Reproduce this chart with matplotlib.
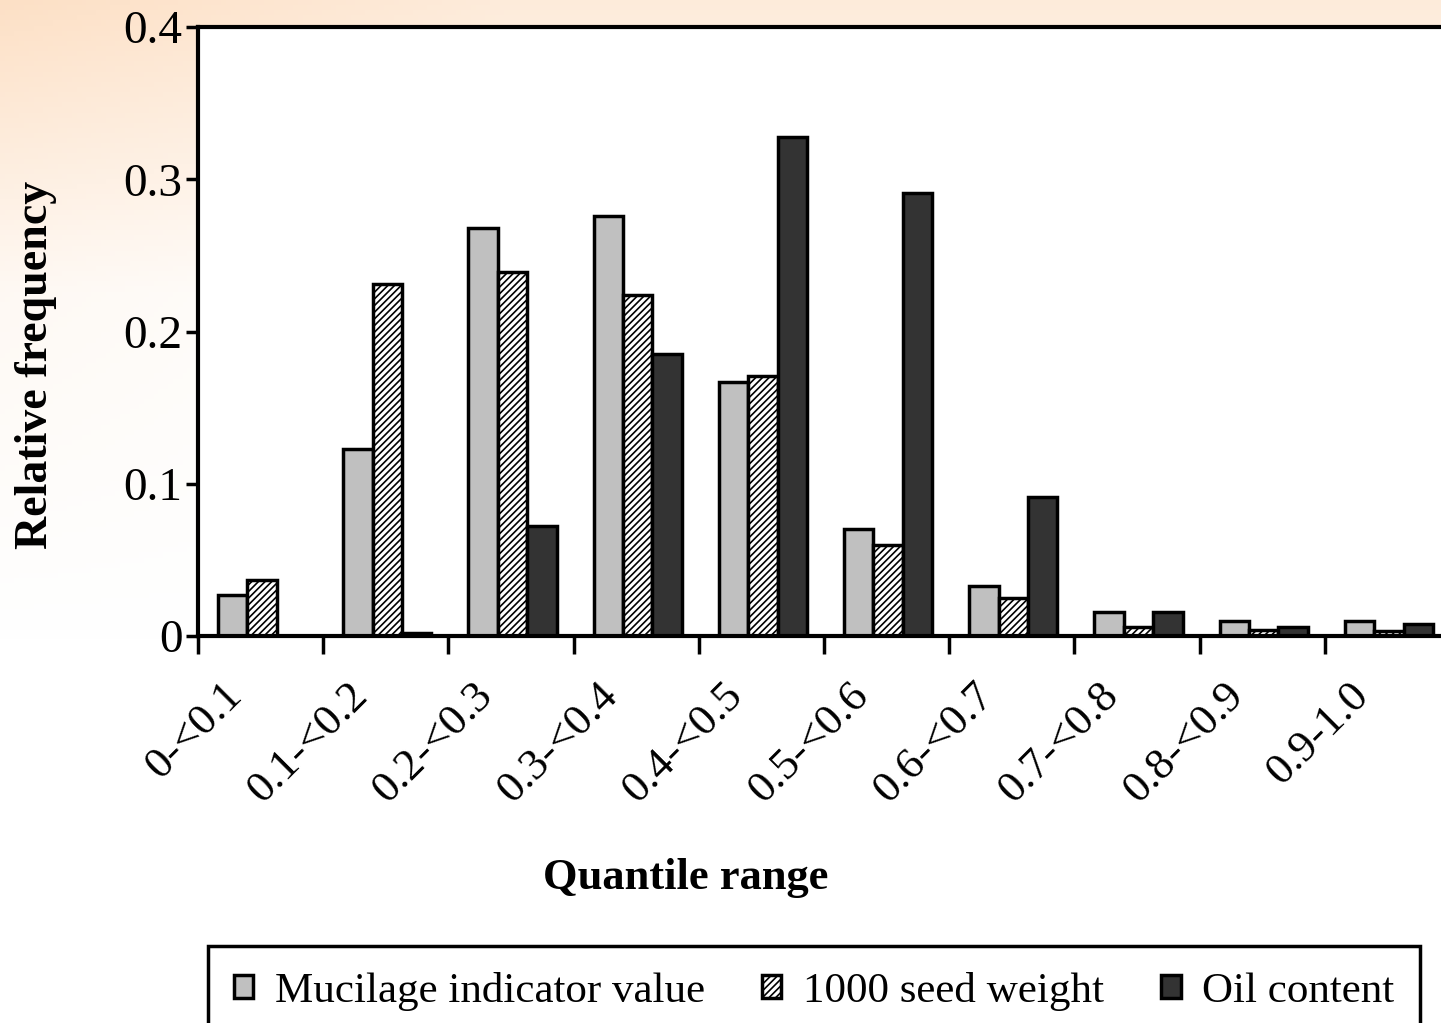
import numpy as np
import matplotlib
matplotlib.use('Agg')
import matplotlib.pyplot as plt

# quantile classes and relative frequencies
categories = ['0-<0.1', '0.1-<0.2', '0.2-<0.3', '0.3-<0.4', '0.4-<0.5',
              '0.5-<0.6', '0.6-<0.7', '0.7-<0.8', '0.8-<0.9', '0.9-1.0']
mucilage = [0.027, 0.123, 0.268, 0.276, 0.167, 0.070, 0.033, 0.016, 0.010, 0.010]
seed_weight = [0.037, 0.231, 0.239, 0.224, 0.171, 0.060, 0.025, 0.006, 0.004, 0.003]
oil = [0.0, 0.002, 0.072, 0.185, 0.328, 0.291, 0.091, 0.016, 0.006, 0.008]
series_names = ['Mucilage indicator value', '1000 seed weight', 'Oil content']
y_ticks = [0, 0.1, 0.2, 0.3, 0.4]
y_labels = ['0', '0.1', '0.2', '0.3', '0.4']

plt.rcParams['font.family'] = ['Liberation Serif', 'DejaVu Serif']
plt.rcParams['hatch.linewidth'] = 1.2

fig = plt.figure(figsize=(14.41, 10.23), dpi=100)

# faint warm background, like the slide behind the chart
bg = fig.add_axes([0, 0, 1, 1], zorder=-10)
yy, xx = np.mgrid[0:1:200j, 0:1:300j]
w = np.clip(1.0 - yy * 3.5, 0, 1) * 0.55 + np.clip(0.35 - xx, 0, 1) * np.clip(1 - yy * 1.6, 0, 1) * 0.9
w = np.clip(w, 0, 1)
img = np.ones((200, 300, 3))
peach = np.array([0.99, 0.86, 0.74])
img = img * (1 - w[..., None]) + peach * w[..., None]
bg.imshow(img, aspect='auto', extent=[0, 1, 0, 1])
bg.axis('off')

ax = fig.add_axes([198 / 1441, 1 - 636 / 1023, 1252 / 1441, 609 / 1023])
ax.set_facecolor('white')

x = np.arange(len(categories))
bw = 0.235
centers = x + 0.5125
ax.bar(centers - bw, mucilage, bw, color='#c0c0c0', edgecolor='black', linewidth=2.5,
       label=series_names[0])
ax.bar(centers, seed_weight, bw, color='white', edgecolor='black', linewidth=2.5,
       hatch='/////', label=series_names[1])
ax.bar(centers + bw, oil, bw, color='#333333', edgecolor='black', linewidth=2.5,
       label=series_names[2])

ax.set_xlim(0, len(categories))
ax.set_ylim(0, 0.4)
ax.set_yticks(y_ticks)
ax.set_yticklabels(y_labels, fontsize=34)
ax.set_xticks(x)
ax.set_xticklabels([])
ax.set_xticks(x + 0.19, minor=True)
ax.set_xticklabels(categories, minor=True, rotation=45, ha='right', va='top',
                   rotation_mode='anchor', fontsize=32)
ax.tick_params(axis='x', which='major', direction='out', length=13, width=2.5)
ax.tick_params(axis='x', which='minor', length=0, pad=28)
ax.tick_params(axis='y', direction='out', length=9, width=2.5, pad=2)
for s in ax.spines.values():
    s.set_linewidth(3)

fig.text(36 / 1441, 1 - 365 / 1023, 'Relative frequency', fontsize=33, fontweight='bold',
         rotation=90, ha='center', va='center')
fig.text(686 / 1441, 1 - 878 / 1023, 'Quantile range', fontsize=32, fontweight='bold',
         ha='center', va='center')

leg = fig.legend(loc='upper left', bbox_to_anchor=(208 / 1441, 0, 1212 / 1441, 1 - 946 / 1023),
                 mode='expand', ncol=3, fontsize=31, frameon=True, fancybox=False,
                 handlelength=0.45, handleheight=0.45, handletextpad=0.5, columnspacing=1.5,
                 borderpad=0.6, borderaxespad=0, framealpha=1)
leg.get_frame().set_edgecolor('black')
leg.get_frame().set_linewidth(2.5)

fig.savefig('out.png', dpi=100)
